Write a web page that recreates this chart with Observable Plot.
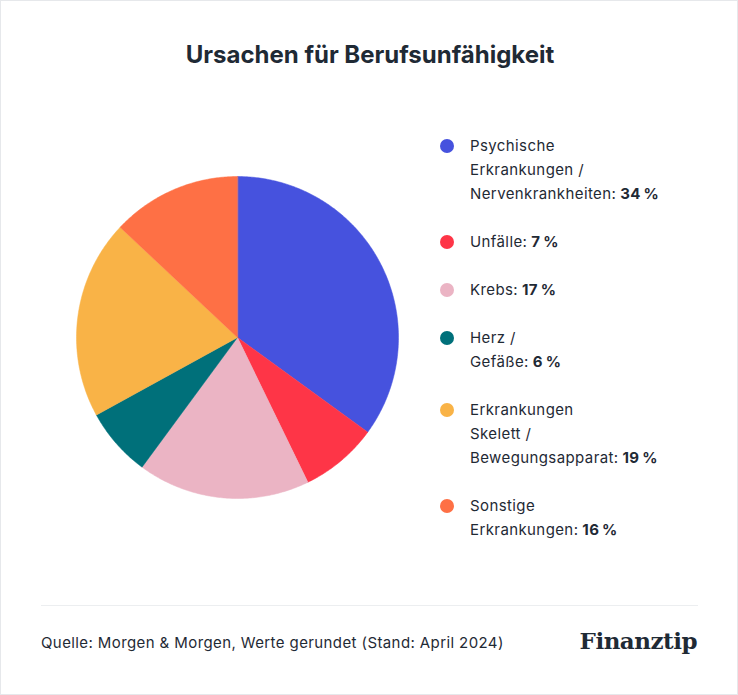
<!DOCTYPE html>
<html>
<head>
<meta charset="utf-8">
<script src="https://cdn.jsdelivr.net/npm/d3@7"></script>
<script src="https://cdn.jsdelivr.net/npm/@observablehq/plot@0.6"></script>
<style>
  html, body { margin: 0; padding: 0; background: #fff; }
  #frame { position: relative; width: 738px; height: 695px; box-sizing: border-box; border: 1px solid #e6e8eb; font-family: Inter, "Noto Sans", sans-serif; color: #1f2a35; overflow: hidden; }
  #title { position: absolute; left: 0; width: 738px; top: 38px; text-align: center; font-size: 24px; font-weight: 700; line-height: 32px; }
  #pie { position: absolute; left: 74px; top: 174px; }
  #legend { position: absolute; left: 437px; top: 133px; font-size: 15px; line-height: 24px; letter-spacing: 0.4px; }
  .entry { position: relative; padding-left: 32px; margin-bottom: 24px; }
  .dot { position: absolute; left: 2px; top: 5px; width: 14px; height: 14px; border-radius: 50%; }
  .entry b { font-weight: 700; }
  #rule { position: absolute; left: 40px; width: 657px; top: 604px; height: 1px; background: #eceef0; }
  #source { position: absolute; left: 40px; top: 630px; font-size: 15px; line-height: 24px; letter-spacing: 0.4px; }
  #logo { position: absolute; right: 40px; top: 624px; font-family: "DejaVu Serif", serif; font-weight: 700; font-size: 23px; line-height: 32px; color: #1f2a35; letter-spacing: -0.5px; }
</style>
</head>
<body>
<div id="frame">
  <div id="title">Ursachen für Berufsunfähigkeit</div>
  <div id="pie"></div>
  <div id="legend"></div>
  <div id="rule"></div>
  <div id="source">Quelle: Morgen &amp; Morgen, Werte gerundet (Stand: April 2024)</div>
  <div id="logo">Finanztip</div>
</div>
<script>
// Categories (legend label lines) in drawing order, clockwise from top
const categories = [
  ["Psychische", "Erkrankungen /", "Nervenkrankheiten:"],
  ["Unfälle:"],
  ["Krebs:"],
  ["Herz /", "Gefäße:"],
  ["Erkrankungen", "Skelett /", "Bewegungsapparat:"],
  ["Sonstige", "Erkrankungen:"]
];
// Percentages as printed in the legend
const labelPercents = [34, 7, 17, 6, 19, 16];
// Slice shares as drawn in the pie
const sliceShares = [35, 7.8, 17.3, 6.9, 20, 13];
const colors = ["#4652de", "#fe3547", "#ebb4c4", "#00707a", "#f9b347", "#fe7045"];

const names = categories.map(c => c.join(" "));

// Build slice polygons from the shares
const arcs = d3.pie().sort(null).value(d => d)(sliceShares);
const pts = [];
arcs.forEach((a, i) => {
  pts.push({k: names[i], x: 0, y: 0});
  const n = Math.max(2, Math.ceil((a.endAngle - a.startAngle) / 0.01));
  for (let j = 0; j <= n; j++) {
    const t = a.startAngle + (a.endAngle - a.startAngle) * j / n;
    pts.push({k: names[i], x: Math.sin(t), y: Math.cos(t)});
  }
});

const chart = Plot.plot({
  width: 324,
  height: 324,
  margin: 1,
  x: {domain: [-1, 1], axis: null},
  y: {domain: [-1, 1], axis: null},
  color: {domain: names, range: colors},
  marks: [
    Plot.line(pts, {x: "x", y: "y", z: "k", fill: "k", stroke: "k", strokeWidth: 0.5, curve: "linear-closed"})
  ]
});
document.getElementById("pie").appendChild(chart);

// Legend
const legend = document.getElementById("legend");
categories.forEach((lines, i) => {
  const e = document.createElement("div");
  e.className = "entry";
  const dot = document.createElement("span");
  dot.className = "dot";
  dot.style.background = colors[i];
  e.appendChild(dot);
  lines.forEach((ln, j) => {
    const d = document.createElement("div");
    d.textContent = ln;
    if (j === lines.length - 1) {
      const b = document.createElement("b");
      b.textContent = " " + labelPercents[i] + "\u202f%";
      d.appendChild(b);
    }
    e.appendChild(d);
  });
  legend.appendChild(e);
});
</script>
</body>
</html>
